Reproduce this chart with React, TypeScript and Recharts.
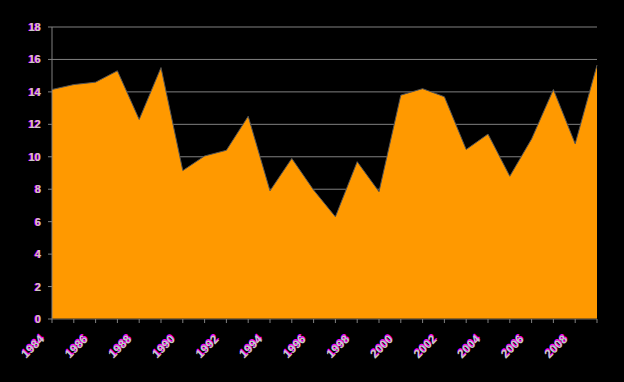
import { AreaChart, Area, XAxis, YAxis, CartesianGrid } from 'recharts';

// 연도 (1984 ~ 2009)
const years = [
  '1984', '1985', '1986', '1987', '1988', '1989', '1990', '1991', '1992',
  '1993', '1994', '1995', '1996', '1997', '1998', '1999', '2000', '2001',
  '2002', '2003', '2004', '2005', '2006', '2007', '2008', '2009',
];

// 값
const values = [
  14.15, 14.45, 14.6, 15.3, 12.3, 15.5, 9.15, 10.05, 10.4, 12.5, 7.9, 9.9,
  7.95, 6.3, 9.7, 7.85, 13.8, 14.2, 13.7, 10.45, 11.4, 8.8, 11.1, 14.15,
  10.8, 15.65,
];

const yTicks = [0, 2, 4, 6, 8, 10, 12, 14, 16, 18];

const data = years.map((year, i) => ({ year, value: values[i] }));

const labelFont = 'Liberation Sans, Arial, sans-serif';

// 마젠타 그림자가 있는 눈금 글자
const YTick = ({ x, y, payload }: { x?: number; y?: number; payload?: { value: number } }) => (
  <g>
    <text x={(x ?? 0) - 1} y={(y ?? 0) + 4} textAnchor="end" fontSize={11} fontWeight="bold"
      fontFamily={labelFont} fill="#ff00ff">
      {payload?.value}
    </text>
    <text x={x} y={(y ?? 0) + 4} textAnchor="end" fontSize={11} fontWeight="bold"
      fontFamily={labelFont} fill="#c8c8c8">
      {payload?.value}
    </text>
  </g>
);

// 짝수 번째 연도만 표시, 비스듬히 회전
const XTick = ({ x, y, payload, index }: { x?: number; y?: number; payload?: { value: string }; index?: number }) => {
  if ((index ?? 0) % 2 !== 0) return null;
  const ax = (x ?? 0) - 7;
  const ay = (y ?? 0) + 15;
  return (
    <g transform={`rotate(-45, ${ax}, ${ay})`}>
      <text x={ax + 1} y={ay - 1} textAnchor="end" fontSize={12} fontWeight="bold"
        fontFamily={labelFont} fill="#ff00ff">
        {payload?.value}
      </text>
      <text x={ax} y={ay} textAnchor="end" fontSize={12} fontWeight="bold"
        fontFamily={labelFont} fill="#c8c8c8">
        {payload?.value}
      </text>
    </g>
  );
};

export default function App() {
  return (
    <div style={{ position: 'absolute', left: 0, top: 0, width: 624, height: 382, background: '#000' }}>
      <AreaChart
        width={624}
        height={382}
        data={data}
        margin={{ top: 27, right: 27, left: 0, bottom: 0 }}
      >
        <CartesianGrid horizontal vertical={false} stroke="#808080" strokeWidth={1} />
        <XAxis
          dataKey="year"
          interval={0}
          height={63}
          tickSize={4}
          tickLine={{ stroke: '#808080' }}
          axisLine={{ stroke: '#303030' }}
          tick={<XTick />}
        />
        <YAxis
          domain={[0, 18]}
          ticks={yTicks}
          width={52}
          tickSize={4}
          tickMargin={7}
          tickLine={{ stroke: '#808080' }}
          axisLine={{ stroke: '#808080' }}
          tick={<YTick />}
        />
        <Area
          type="linear"
          dataKey="value"
          fill="#ff9900"
          fillOpacity={1}
          stroke="#555555"
          strokeWidth={1}
          isAnimationActive={false}
        />
      </AreaChart>
    </div>
  );
}
